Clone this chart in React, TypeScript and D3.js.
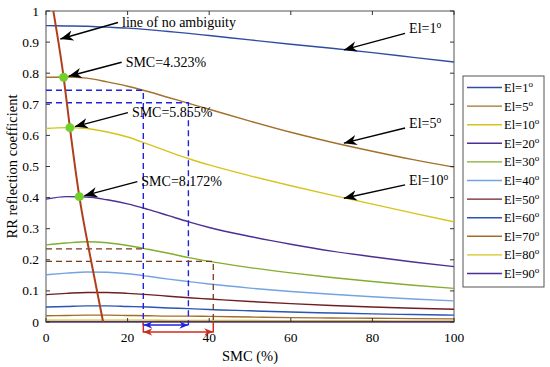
import React, { useEffect, useRef } from "react";
import * as d3 from "d3";

// SMC sample points (%) used by every elevation curve
const smc = [0, 5, 10, 15, 20, 25, 30, 35, 40, 50, 60, 70, 80, 90, 100];

const elevations = ["1", "5", "10", "20", "30", "40", "50", "60", "70", "80", "90"];
const colors = [
  "#2f4da0", "#a3712b", "#d6c41c", "#4c2f94", "#82ad2f", "#74a3e2",
  "#6e1f22", "#2a55b2", "#a36c2c", "#d6c41c", "#4c2f94",
];

const el1 = [0.953, 0.952, 0.951, 0.948, 0.945, 0.94, 0.934, 0.928, 0.921, 0.907, 0.893, 0.88, 0.866, 0.851, 0.836];
const el5 = [0.787, 0.788, 0.784, 0.772, 0.758, 0.741, 0.722, 0.703, 0.684, 0.646, 0.61, 0.578, 0.549, 0.522, 0.498];
const el10 = [0.622, 0.625, 0.622, 0.611, 0.595, 0.572, 0.548, 0.525, 0.505, 0.47, 0.438, 0.408, 0.379, 0.35, 0.322];
const el20 = [0.395, 0.403, 0.402, 0.393, 0.38, 0.362, 0.342, 0.322, 0.304, 0.275, 0.25, 0.228, 0.21, 0.193, 0.178];
const el30 = [0.248, 0.254, 0.258, 0.255, 0.246, 0.234, 0.221, 0.207, 0.195, 0.175, 0.158, 0.143, 0.13, 0.118, 0.108];
const el40 = [0.152, 0.157, 0.161, 0.16, 0.155, 0.147, 0.138, 0.13, 0.122, 0.109, 0.098, 0.089, 0.081, 0.074, 0.068];
const el50 = [0.088, 0.092, 0.095, 0.095, 0.092, 0.088, 0.083, 0.078, 0.074, 0.066, 0.059, 0.053, 0.048, 0.044, 0.041];
const el60 = [0.048, 0.05, 0.052, 0.052, 0.05, 0.048, 0.045, 0.043, 0.04, 0.036, 0.032, 0.029, 0.026, 0.024, 0.022];
const el70 = [0.02, 0.021, 0.022, 0.022, 0.021, 0.02, 0.019, 0.019, 0.018, 0.016, 0.014, 0.013, 0.012, 0.011, 0.01];
const el80 = [0.006, 0.006, 0.006, 0.006, 0.006, 0.006, 0.005, 0.005, 0.005, 0.005, 0.004, 0.004, 0.004, 0.003, 0.003];
const el90 = [0.001, 0.001, 0.001, 0.001, 0.001, 0.001, 0.001, 0.001, 0.001, 0.001, 0.001, 0.001, 0.001, 0.001, 0.001];
const series = [el1, el5, el10, el20, el30, el40, el50, el60, el70, el80, el90];

// line of no ambiguity
const ambSmc = [1.8, 4.323, 5.855, 8.172, 11, 14];
const ambVal = [1.0, 0.787, 0.625, 0.403, 0.2, 0];

// marked points
const markSmc = [4.323, 5.855, 8.172];
const markVal = [0.787, 0.625, 0.403];
const markLabels = ["SMC=4.323%", "SMC=5.855%", "SMC=8.172%"];

// El labels with arrows (text at [smc,val], arrow tip at [smc,val])
const elLabelText = ["1", "5", "10"];
const elLabelPos = [[88.5, 0.944], [88.5, 0.64], [88.5, 0.457]];
const elArrowTip = [[73, 0.875], [73, 0.575], [73, 0.398]];

const xTicks = [0, 20, 40, 60, 80, 100];
const yTicks = [0, 0.1, 0.2, 0.3, 0.4, 0.5, 0.6, 0.7, 0.8, 0.9, 1];

// dashed reading lines
const blueLevels = [0.745, 0.705];
const blueSmc = [23.85, 34.9];
const brownLevels = [0.235, 0.195];
const brownSmc = [23.85, 41];

const W = 550;
const H = 367;

const App = () => {
  const svgRef = useRef<SVGSVGElement>(null);

  useEffect(() => {
    const svg = d3.select(svgRef.current);
    svg.selectAll("*").remove();

    const x = d3.scaleLinear().domain([0, 100]).range([46, 454]);
    const y = d3.scaleLinear().domain([0, 1]).range([322, 11]);
    const font = '"Liberation Serif", "DejaVu Serif", serif';

    const defs = svg.append("defs");
    const mk = (id: string, color: string, size: number) =>
      defs
        .append("marker")
        .attr("id", id)
        .attr("viewBox", "0 0 10 10")
        .attr("refX", 10)
        .attr("refY", 5)
        .attr("markerWidth", size)
        .attr("markerHeight", size)
        .attr("markerUnits", "userSpaceOnUse")
        .attr("orient", "auto-start-reverse")
        .append("path")
        .attr("d", "M0,1 L10,5 L0,9 L3,5 Z")
        .attr("fill", color);
    mk("arrBlack", "#000", 13);
    mk("arrBlue", "#2222dd", 9);
    mk("arrRed", "#d42a1a", 9);

    svg.append("rect").attr("width", W).attr("height", H).attr("fill", "white");

    // box
    svg
      .append("rect")
      .attr("x", x(0))
      .attr("y", y(1))
      .attr("width", x(100) - x(0))
      .attr("height", y(0) - y(1))
      .attr("fill", "none")
      .attr("stroke", "#555")
      .attr("stroke-width", 1);

    // curves
    const line = d3
      .line<number>()
      .x((_, i) => x(smc[i]))
      .y((d) => y(d))
      .curve(d3.curveMonotoneX);
    series.forEach((s, k) => {
      svg
        .append("path")
        .attr("d", line(s))
        .attr("fill", "none")
        .attr("stroke", colors[k])
        .attr("stroke-width", 1.4);
    });

    // dashed reading lines
    blueLevels.forEach((lv, i) => {
      svg
        .append("path")
        .attr("d", `M${x(0)},${y(lv)} H${x(blueSmc[i])} V${y(-0.01)}`)
        .attr("fill", "none")
        .attr("stroke", "#2222dd")
        .attr("stroke-width", 1.4)
        .attr("stroke-dasharray", "6,4");
    });
    brownLevels.forEach((lv, i) => {
      svg
        .append("path")
        .attr("d", i === 0 ? `M${x(0)},${y(lv)} H${x(brownSmc[i])}` : `M${x(0)},${y(lv)} H${x(brownSmc[i])} V${y(0)}`)
        .attr("fill", "none")
        .attr("stroke", "#7a3a1c")
        .attr("stroke-width", 1.3)
        .attr("stroke-dasharray", "6,4");
    });
    // red end ticks & double arrows
    brownSmc.forEach((s) => {
      svg
        .append("line")
        .attr("x1", x(s))
        .attr("x2", x(s))
        .attr("y1", y(0))
        .attr("y2", y(-0.034))
        .attr("stroke", "#d42a1a")
        .attr("stroke-width", 1.5);
    });
    svg
      .append("line")
      .attr("x1", x(blueSmc[0]))
      .attr("x2", x(blueSmc[1]))
      .attr("y1", y(-0.01))
      .attr("y2", y(-0.01))
      .attr("stroke", "#2222dd")
      .attr("stroke-width", 1.5)
      .attr("marker-start", "url(#arrBlue)")
      .attr("marker-end", "url(#arrBlue)");
    svg
      .append("line")
      .attr("x1", x(brownSmc[0]))
      .attr("x2", x(brownSmc[1]))
      .attr("y1", y(-0.032))
      .attr("y2", y(-0.032))
      .attr("stroke", "#d42a1a")
      .attr("stroke-width", 1.5)
      .attr("marker-start", "url(#arrRed)")
      .attr("marker-end", "url(#arrRed)");

    // line of no ambiguity
    const amb = d3
      .line<number>()
      .x((d) => x(d))
      .y((_, i) => y(ambVal[i]))
      .curve(d3.curveMonotoneX);
    svg
      .append("path")
      .attr("d", amb(ambSmc))
      .attr("fill", "none")
      .attr("stroke", "#b0401c")
      .attr("stroke-width", 2);

    // markers
    markSmc.forEach((s, i) => {
      svg
        .append("circle")
        .attr("cx", x(s))
        .attr("cy", y(markVal[i]))
        .attr("r", 4.5)
        .attr("fill", "#6fd12a");
    });

    // ticks
    const g = svg.append("g").style("font-family", font).style("font-size", "13.5px");
    xTicks.forEach((t) => {
      g.append("line").attr("x1", x(t)).attr("x2", x(t)).attr("y1", y(0)).attr("y2", y(0) - 4).attr("stroke", "#333");
      g.append("line").attr("x1", x(t)).attr("x2", x(t)).attr("y1", y(1)).attr("y2", y(1) + 4).attr("stroke", "#333");
      g.append("text").attr("x", x(t)).attr("y", 342).attr("text-anchor", "middle").text(t);
    });
    yTicks.forEach((t) => {
      g.append("line").attr("x1", x(0)).attr("x2", x(0) + 4).attr("y1", y(t)).attr("y2", y(t)).attr("stroke", "#333");
      g.append("line").attr("x1", x(100)).attr("x2", x(100) - 4).attr("y1", y(t)).attr("y2", y(t)).attr("stroke", "#333");
      g.append("text")
        .attr("x", x(0) - 7)
        .attr("y", y(t) + 4.5)
        .attr("text-anchor", "end")
        .text(d3.format("~g")(t));
    });
    g.append("text").attr("x", 250).attr("y", 361).attr("text-anchor", "middle").style("font-size", "14.5px").text("SMC (%)");
    g.append("text")
      .attr("transform", `translate(17,${(y(0) + y(1)) / 2}) rotate(-90)`)
      .attr("text-anchor", "middle")
      .style("font-size", "14.5px")
      .text("RR reflection coefficient");

    // annotations
    const arrow = (x1: number, y1: number, x2: number, y2: number) =>
      svg
        .append("line")
        .attr("x1", x1)
        .attr("y1", y1)
        .attr("x2", x2)
        .attr("y2", y2)
        .attr("stroke", "#000")
        .attr("stroke-width", 1.4)
        .attr("marker-end", "url(#arrBlack)");

    const ann = svg.append("g").style("font-family", font).style("font-size", "14px");

    arrow(118, 22.5, x(ambSmc[0]) + 7, y(0.91));
    ann.append("text").attr("x", 122).attr("y", 27).text("line of no ambiguity");

    markSmc.forEach((s, i) => {
      const tx = x(s) + 60;
      const ty = y(markVal[i]) - 15;
      arrow(tx - 2, ty, x(s) + 5, y(markVal[i]) - 1);
      ann.append("text").attr("x", tx + 2).attr("y", ty + 4.5).text(markLabels[i]);
    });

    elLabelText.forEach((t, i) => {
      const [ps, pv] = elLabelPos[i];
      const [as, av] = elArrowTip[i];
      arrow(x(ps) - 2, y(pv) + 5, x(as), y(av));
      const tx = ann.append("text").attr("x", x(ps) + 2).attr("y", y(pv) + 5);
      tx.append("tspan").text(`El=${t}`);
      tx.append("tspan").style("font-size", "9.5px").attr("dy", -5).text("o");
    });

    // legend
    const lg = svg.append("g").style("font-family", font).style("font-size", "12.5px");
    lg.append("rect")
      .attr("x", 463)
      .attr("y", 76)
      .attr("width", 81)
      .attr("height", 211)
      .attr("fill", "white")
      .attr("stroke", "#555");
    elevations.forEach((e, i) => {
      const cy = 87.5 + i * 18.6;
      lg.append("line").attr("x1", 467).attr("x2", 502).attr("y1", cy).attr("y2", cy).attr("stroke", colors[i]).attr("stroke-width", 1.4);
      const t = lg.append("text").attr("x", 504).attr("y", cy + 4.5);
      t.append("tspan").text(`El=${e}`);
      t.append("tspan").style("font-size", "9px").attr("dy", -5).text("o");
    });
  }, []);

  return (
    <svg
      ref={svgRef}
      width={W}
      height={H}
      style={{ position: "absolute", left: 0, top: 0 }}
    ></svg>
  );
};

export default App;
